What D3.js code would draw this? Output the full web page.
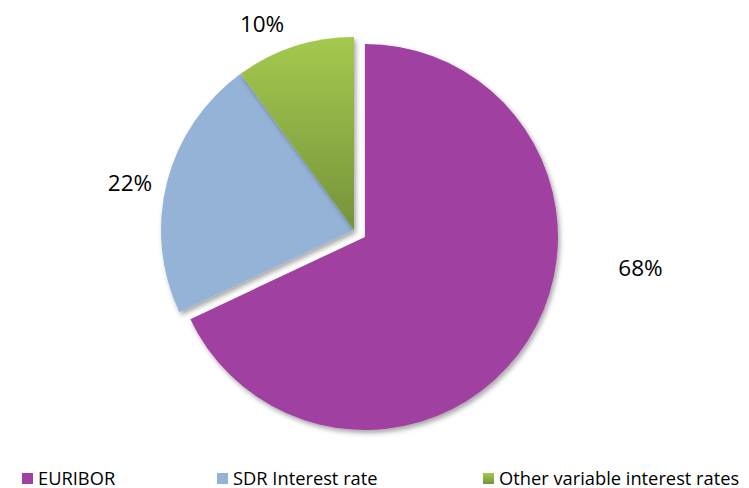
<!DOCTYPE html>
<html>
<head>
<meta charset="utf-8">
<script src="https://cdn.jsdelivr.net/npm/d3@7/dist/d3.min.js"></script>
<style>
  html, body { margin: 0; padding: 0; background: #ffffff; }
  svg { display: block; }
  text { font-family: "Open Sans", Lato, sans-serif; fill: #000; }
</style>
</head>
<body>
<svg id="chart" width="749" height="488"></svg>
<script>
// Share of variable-rate debt by reference rate
const categories = ["EURIBOR", "SDR Interest rate", "Other variable interest rates"];
const shares = [68, 22, 10];
const valueLabels = ["68%", "22%", "10%"];

const colors = ["#a040a0", "#95b3d7", "url(#greenGrad)"];
const legendColors = ["#a040a0", "#95b3d7", "url(#greenGradLegend)"];

const W = 749, H = 488;
const cx = 354, cy = 230, radius = 193;
const explode = [13, 0, 0];            // EURIBOR slice pulled out
// label placement: polar position around the centre (angle in degrees clockwise from top)
const labelPolar = [{ang: 97.5, dist: 289}, {ang: 282, dist: 229}, {ang: 336, dist: 226}];

const svg = d3.select("#chart");
const defs = svg.append("defs");

function addGreen(id) {
  const g = defs.append("linearGradient").attr("id", id)
    .attr("x1", 0).attr("y1", 0).attr("x2", 0).attr("y2", 1);
  g.append("stop").attr("offset", "0%").attr("stop-color", "#a4c94e");
  g.append("stop").attr("offset", "100%").attr("stop-color", "#76933b");
}
addGreen("greenGrad");
addGreen("greenGradLegend");

const shadow = defs.append("filter").attr("id", "shadow")
  .attr("x", "-20%").attr("y", "-20%").attr("width", "140%").attr("height", "140%");
shadow.append("feDropShadow").attr("dx", 2).attr("dy", 3)
  .attr("stdDeviation", 2.5).attr("flood-color", "#000").attr("flood-opacity", 0.35);

const pie = d3.pie().sort(null).value(d => d)(shares);
const arc = d3.arc().innerRadius(0).outerRadius(radius);

const slices = svg.append("g").attr("transform", `translate(${cx},${cy})`);
slices.selectAll("path")
  .data(pie)
  .join("path")
  .attr("d", arc)
  .attr("fill", (d, i) => colors[i])
  .attr("filter", "url(#shadow)")
  .attr("transform", (d, i) => {
    const mid = (d.startAngle + d.endAngle) / 2;
    return `translate(${Math.sin(mid) * explode[i]},${-Math.cos(mid) * explode[i]})`;
  });

// value labels
svg.append("g").selectAll("text")
  .data(pie)
  .join("text")
  .attr("x", (d, i) => cx + Math.sin(labelPolar[i].ang * Math.PI / 180) * labelPolar[i].dist)
  .attr("y", (d, i) => cy - Math.cos(labelPolar[i].ang * Math.PI / 180) * labelPolar[i].dist)
  .attr("text-anchor", "middle")
  .attr("dominant-baseline", "central")
  .style("font-size", "22.5px")
  .text((d, i) => valueLabels[i]);

// legend
const legendX = [22, 217, 483];
const legend = svg.append("g").selectAll("g")
  .data(categories)
  .join("g")
  .attr("transform", (d, i) => `translate(${legendX[i]},473)`);
legend.append("rect")
  .attr("width", 11).attr("height", 11)
  .attr("fill", (d, i) => legendColors[i]);
legend.append("text")
  .attr("x", 16).attr("y", 11.5)
  .style("font-size", "18.3px")
  .text(d => d);
</script>
</body>
</html>
